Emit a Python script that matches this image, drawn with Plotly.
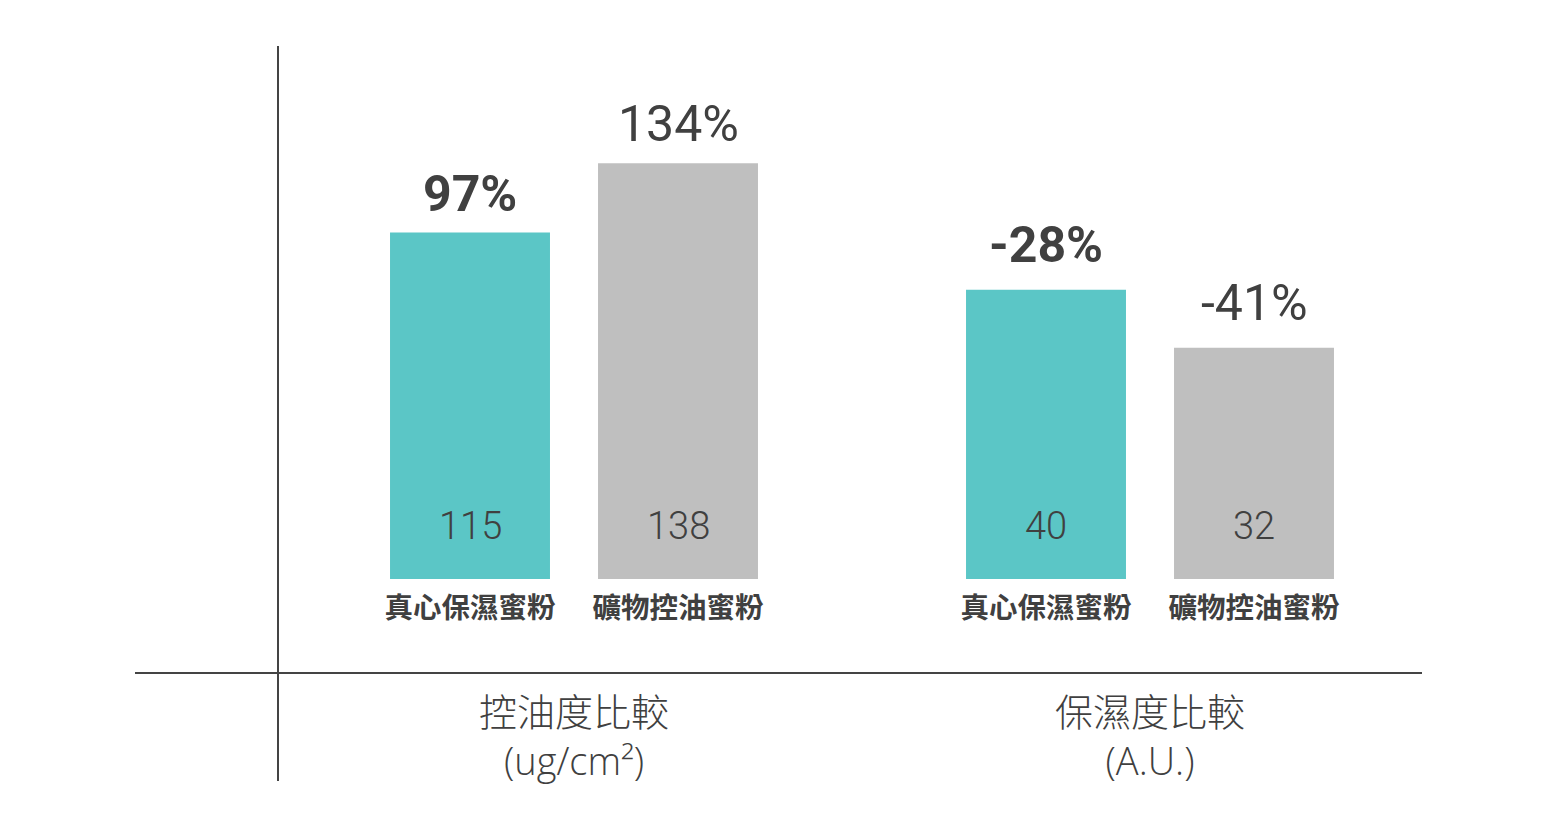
import plotly.graph_objects as go

# ---- data ----
products = ["真心保濕蜜粉", "礦物控油蜜粉"]
oil_values = [115, 138]
oil_change = ["97%", "134%"]
moist_values = [40, 32]
moist_change = ["-28%", "-41%"]
group_titles = ["控油度比較<br>(ug/cm²)", "保濕度比較<br>(A.U.)"]

TEAL = "#5BC6C6"
GRAY = "#BFBFBF"
TXT = "#404040"
colors = [TEAL, GRAY]
weights = ["bold", "normal"]

W, H = 1560, 840
OFF = 8  # page body margin


def px(x):
    return (x - OFF) / W


def py(y):
    return (H - (y - OFF)) / H


fig = go.Figure()

fig.add_trace(go.Bar(x=products, y=oil_values, marker=dict(color=colors, line=dict(width=0)),
                     xaxis="x", yaxis="y", hoverinfo="skip"))
fig.add_trace(go.Bar(x=products, y=moist_values, marker=dict(color=colors, line=dict(width=0)),
                     xaxis="x2", yaxis="y2", hoverinfo="skip"))

ydom = [py(579), 1.0]
common_x = dict(type="category", showgrid=False, zeroline=False, showline=False, ticks="",
                tickfont=dict(family="Noto Sans CJK TC", size=28.5, color=TXT, weight="bold"),
                range=[-0.5, 1.5], fixedrange=True)
top_px = 579 - OFF
fig.update_layout(
    width=W, height=H,
    margin=dict(l=0, r=0, t=0, b=0),
    paper_bgcolor="white", plot_bgcolor="white",
    showlegend=False, bargap=0.231,
    xaxis=dict(domain=[px(366), px(782)], anchor="y", **common_x),
    xaxis2=dict(domain=[px(942), px(1358)], anchor="y2", **common_x),
    yaxis=dict(domain=ydom, range=[0, top_px / 3.012], visible=False, anchor="x"),
    yaxis2=dict(domain=ydom, range=[0, top_px / 7.23], visible=False, anchor="x2"),
)
fig.update_xaxes(ticklabelstandoff=9)

annotations = []
for xr, yr, vals, chg, ys in [("x", "y", oil_values, oil_change, 8),
                              ("x2", "y2", moist_values, moist_change, 14)]:
    for i, p in enumerate(products):
        annotations.append(dict(x=p, y=0, xref=xr, yref=yr, text=str(vals[i]), showarrow=False,
                                yanchor="middle", yshift=53,
                                font=dict(family="Roboto", size=38, color=TXT, weight=300)))
        annotations.append(dict(x=p, y=vals[i], xref=xr, yref=yr, text=chg[i], showarrow=False,
                                yanchor="bottom", yshift=ys,
                                font=dict(family="Roboto", size=50, color=TXT, weight=weights[i])))
for xr, t in zip(["x domain", "x2 domain"], group_titles):
    annotations.append(dict(x=0.5, y=py(735), xref=xr, yref="paper", text=t, showarrow=False,
                            yanchor="middle", align="center",
                            font=dict(family="Open Sans, Noto Sans CJK TC", size=38, color=TXT, weight=300)))
fig.update_layout(annotations=annotations)

fig.add_shape(type="line", xref="paper", yref="paper", x0=px(278), x1=px(278),
              y0=py(46), y1=py(781), line=dict(color="#444444", width=2))
fig.add_shape(type="line", xref="paper", yref="paper", x0=px(135), x1=px(1422),
              y0=py(673), y1=py(673), line=dict(color="#444444", width=2))

fig.write_html("out.html")
